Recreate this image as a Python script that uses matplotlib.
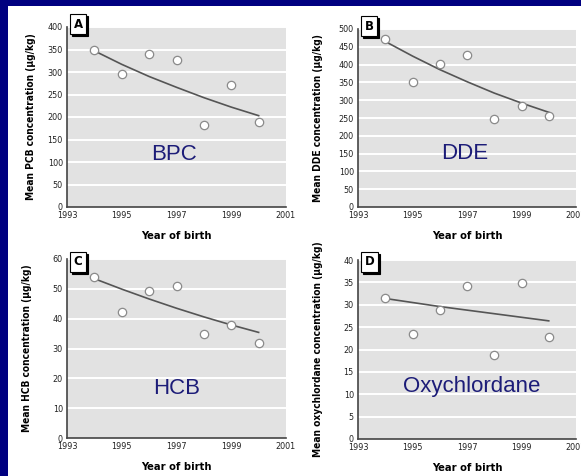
import matplotlib.pyplot as plt
import matplotlib.transforms as mtransforms
from matplotlib.patches import Rectangle

years = [1994, 1995, 1996, 1997, 1998, 1999, 2000]

pcb = [350, 296, 341, 326, 182, 271, 190]
pcb_trend = [347, 317, 290, 266, 243, 222, 203]

dde = [471, 350, 402, 427, 248, 283, 255]
dde_trend = [465, 424, 386, 352, 320, 292, 266]

hcb = [54, 42.4, 49.3, 50.8, 34.8, 37.9, 31.7]
hcb_trend = [53.4, 49.9, 46.6, 43.5, 40.6, 37.9, 35.4]

oxy = [31.6, 23.4, 28.8, 34.3, 18.8, 34.9, 22.9]
oxy_trend = [31.4, 30.5, 29.6, 28.8, 28.0, 27.2, 26.4]

xticks = [1993, 1995, 1997, 1999, 2001]

NAVY = "#000080"
NARROW = dict(family = "DejaVu Sans", stretch = "condensed")


def plot_panel(fig, rect, values, trend, yticks, letter, ylabel, name, name_pos,
               label_x = -0.16, box_y = 1.0):

    ax = fig.add_axes(rect)
    ax.set_facecolor("#e2e2e2")

    for y in yticks[1:]:
        ax.axhline(y, color = "white", lw = 1.4, zorder = 1)

    ax.plot(years, trend, color = "#555555", lw = 1.2, zorder = 2)
    ax.plot(years, values,
            "o",
            ms = 6,
            mfc = "white",
            mec = "#8a8a8a",
            mew = 0.9,
            zorder = 3,
            clip_on = False)

    ax.set_xlim(1993, 2001)
    ax.set_ylim(yticks[0], yticks[-1])
    ax.set_xticks(xticks)
    ax.set_yticks(yticks)
    ax.tick_params(length = 0, pad = 3, labelsize = 6.5, labelcolor = "#222222")
    for lab in ax.get_xticklabels() + ax.get_yticklabels():
        lab.set_family("DejaVu Sans")
        lab.set_stretch("condensed")

    for side in ("top", "right"):
        ax.spines[side].set_visible(False)
    for side in ("left", "bottom"):
        ax.spines[side].set_color("#444444")
        ax.spines[side].set_linewidth(1.2)

    ax.set_ylabel(ylabel, fontweight = "bold", fontsize = 7.3, **NARROW)
    ax.yaxis.set_label_coords(label_x, 0.5)
    ax.set_xlabel("Year of birth", fontweight = "bold", fontsize = 8, **NARROW)
    ax.xaxis.set_label_coords(0.5, -0.135)

    # letter box with a drop shadow
    shadow = mtransforms.offset_copy(ax.transAxes, fig = fig, x = 1.5, y = -1.5, units = "points")
    box = dict(boxstyle = "square,pad=0.3", lw = 0.8)
    ax.text(0.03, box_y, letter, transform = shadow, ha = "left", va = "center",
            fontsize = 8.5, fontweight = "bold", color = "black",
            bbox = dict(box, fc = "black", ec = "black"), clip_on = False, zorder = 5)
    ax.text(0.03, box_y, letter, transform = ax.transAxes, ha = "left", va = "center",
            fontsize = 8.5, fontweight = "bold", color = "black",
            bbox = dict(box, fc = "white", ec = "black"), clip_on = False, zorder = 6)

    ax.text(name_pos[0], name_pos[1], name, transform = ax.transAxes,
            ha = "center", va = "center", fontsize = 16,
            family = "Liberation Sans", color = "#1c1c78", zorder = 4)
    return ax


W, H = 581, 476
fig = plt.figure(figsize = (W / 100, H / 100), dpi = 100)
fig.patch.set_facecolor(NAVY)
fig.patches.append(Rectangle((8 / W, 0), 1, (H - 6) / H,
                             transform = fig.transFigure, fc = "white", ec = "none", zorder = -1))


def rect(x0, x1, top, bottom):
    return [x0 / W, (H - bottom) / H, (x1 - x0) / W, (bottom - top) / H]


plot_panel(fig, rect(67, 286, 27, 207), pcb, pcb_trend,
           [0, 50, 100, 150, 200, 250, 300, 350, 400], "A",
           "Mean PCB concentration (\u03bcg/kg)", "BPC", (0.487, 0.289),
           label_x = -0.14, box_y = 1.015)
plot_panel(fig, rect(358, 576, 29, 207), dde, dde_trend,
           [0, 50, 100, 150, 200, 250, 300, 350, 400, 450, 500], "B",
           "Mean DDE concentration (\u03bcg/kg)", "DDE", (0.491, 0.298),
           box_y = 1.015)
plot_panel(fig, rect(67, 286, 259, 438), hcb, hcb_trend,
           [0, 10, 20, 30, 40, 50, 60], "C",
           "Mean HCB concentration (\u03bcg/kg)", "HCB", (0.502, 0.279),
           box_y = 0.985)
plot_panel(fig, rect(358, 576, 260, 439), oxy, oxy_trend,
           [0, 5, 10, 15, 20, 25, 30, 35, 40], "D",
           "Mean oxychlordane concentration (\u03bcg/kg)", "Oxychlordane", (0.522, 0.291),
           box_y = 0.99)

fig.savefig("out.png", dpi = 100, facecolor = fig.get_facecolor())
